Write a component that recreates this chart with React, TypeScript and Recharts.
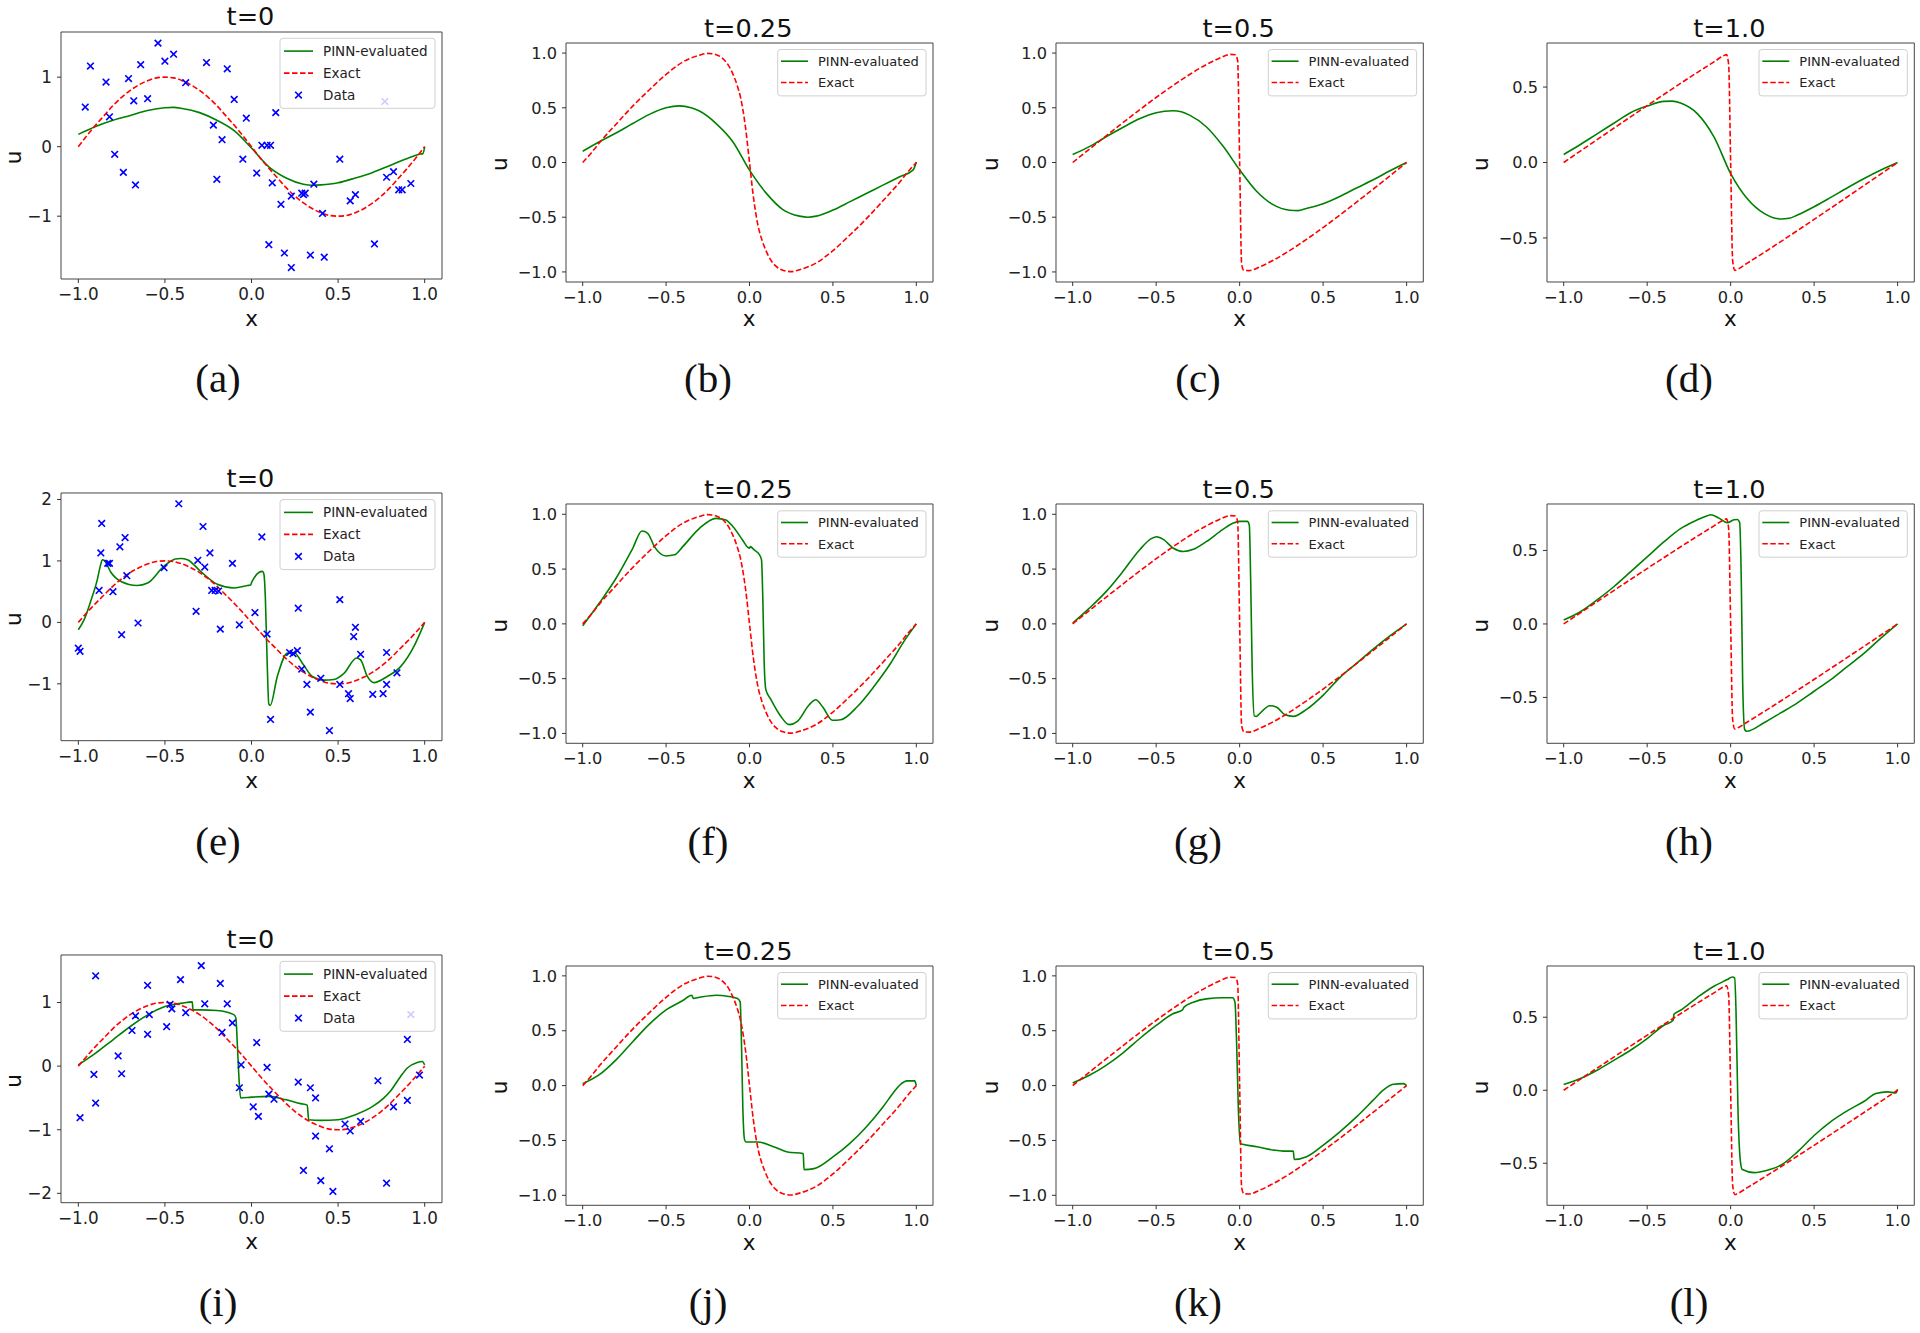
import React from 'react';
import { ComposedChart, Line, Scatter, XAxis, YAxis, ReferenceArea } from 'recharts';

type P = [number, number];

// ---------- tick values ----------
const xTicks = [-1, -0.5, 0, 0.5, 1];
const yTicksA = [-1, 0, 1];
const yTicksE = [-1, 0, 1, 2];
const yTicksI = [-2, -1, 0, 1];
const yTicksUnit = [-1, -0.5, 0, 0.5, 1];
const yTicksHalf = [-0.5, 0, 0.5];

// ---------- exact solutions ----------
const exactT0: P[] = [
  [-1, 0], [-0.95, 0.16], [-0.9, 0.31], [-0.85, 0.45], [-0.8, 0.59], [-0.75, 0.71], [-0.7, 0.81],
  [-0.65, 0.89], [-0.6, 0.95], [-0.55, 0.99], [-0.5, 1.0], [-0.45, 0.99], [-0.4, 0.95], [-0.35, 0.89],
  [-0.3, 0.81], [-0.25, 0.71], [-0.2, 0.59], [-0.15, 0.45], [-0.1, 0.31], [-0.05, 0.16], [0, 0],
  [0.05, -0.16], [0.1, -0.31], [0.15, -0.45], [0.2, -0.59], [0.25, -0.71], [0.3, -0.81], [0.35, -0.89],
  [0.4, -0.95], [0.45, -0.99], [0.5, -1.0], [0.55, -0.99], [0.6, -0.95], [0.65, -0.89], [0.7, -0.81],
  [0.75, -0.71], [0.8, -0.59], [0.85, -0.45], [0.9, -0.31], [0.95, -0.16], [1, 0],
];
const exactT025: P[] = [
  [-1, 0], [-0.95, 0.085], [-0.9, 0.18], [-0.8, 0.35], [-0.7, 0.515], [-0.6, 0.665], [-0.5, 0.805],
  [-0.4, 0.918], [-0.3, 0.98], [-0.25, 0.997], [-0.2, 0.985], [-0.16, 0.95], [-0.127, 0.89], [-0.1, 0.81],
  [-0.075, 0.71], [-0.053, 0.59], [-0.023, 0.31], [0, 0], [0.023, -0.31], [0.053, -0.59], [0.075, -0.71],
  [0.1, -0.81], [0.127, -0.89], [0.16, -0.95], [0.2, -0.985], [0.25, -0.997], [0.3, -0.98], [0.4, -0.918],
  [0.5, -0.805], [0.6, -0.665], [0.7, -0.515], [0.8, -0.35], [0.9, -0.18], [0.95, -0.085], [1, 0],
];
const exactT05: P[] = [
  [-1, 0], [-0.872, 0.156], [-0.745, 0.309], [-0.623, 0.454], [-0.506, 0.588], [-0.396, 0.707],
  [-0.295, 0.809], [-0.204, 0.891], [-0.124, 0.951], [-0.056, 0.988], [-0.025, 0.985], [-0.012, 0.93],
  [0, 0], [0.012, -0.93], [0.025, -0.985], [0.056, -0.988], [0.124, -0.951], [0.204, -0.891],
  [0.295, -0.809], [0.396, -0.707], [0.506, -0.588], [0.623, -0.454], [0.745, -0.309], [0.872, -0.156], [1, 0],
];
const exactT1: P[] = [
  [-1, 0], [-0.794, 0.156], [-0.591, 0.309], [-0.396, 0.454], [-0.212, 0.588], [-0.1, 0.667],
  [-0.043, 0.707], [-0.025, 0.715], [-0.012, 0.65], [0, 0], [0.012, -0.65], [0.025, -0.715],
  [0.043, -0.707], [0.1, -0.667], [0.212, -0.588], [0.396, -0.454], [0.591, -0.309], [0.794, -0.156], [1, 0],
];

// ---------- PINN predictions ----------
const pinnA: P[] = [
  [-1, 0.177], [-0.9, 0.29], [-0.8, 0.38], [-0.7, 0.45], [-0.6, 0.52], [-0.5, 0.56], [-0.45, 0.565],
  [-0.4, 0.55], [-0.3, 0.49], [-0.2, 0.38], [-0.1, 0.23], [0, -0.02], [0.1, -0.29], [0.2, -0.45],
  [0.3, -0.54], [0.35, -0.555], [0.4, -0.55], [0.5, -0.52], [0.6, -0.45], [0.7, -0.37], [0.8, -0.27],
  [0.9, -0.17], [0.975, -0.105], [0.99, -0.1], [1, 0],
];
const pinnB: P[] = [
  [-1, 0.103], [-0.9, 0.19], [-0.8, 0.27], [-0.7, 0.356], [-0.6, 0.44], [-0.5, 0.5], [-0.42, 0.517],
  [-0.35, 0.5], [-0.3, 0.47], [-0.2, 0.356], [-0.1, 0.19], [0, -0.07], [0.1, -0.28], [0.2, -0.43],
  [0.3, -0.49], [0.35, -0.5], [0.4, -0.49], [0.5, -0.435], [0.6, -0.36], [0.7, -0.283], [0.8, -0.207],
  [0.9, -0.13], [0.98, -0.07], [1, 0.005],
];
const pinnC: P[] = [
  [-1, 0.073], [-0.9, 0.145], [-0.8, 0.235], [-0.7, 0.32], [-0.6, 0.4], [-0.5, 0.455], [-0.4, 0.473],
  [-0.35, 0.464], [-0.3, 0.433], [-0.2, 0.327], [-0.1, 0.15], [0, -0.067], [0.1, -0.26], [0.2, -0.385],
  [0.3, -0.436], [0.35, -0.44], [0.4, -0.42], [0.5, -0.376], [0.6, -0.31], [0.7, -0.233], [0.8, -0.158],
  [0.9, -0.076], [1, 0],
];
const pinnD: P[] = [
  [-1, 0.053], [-0.9, 0.119], [-0.8, 0.19], [-0.7, 0.26], [-0.6, 0.33], [-0.5, 0.374], [-0.4, 0.405],
  [-0.35, 0.407], [-0.3, 0.394], [-0.2, 0.324], [-0.1, 0.17], [0, -0.073], [0.1, -0.24], [0.2, -0.337],
  [0.3, -0.374], [0.35, -0.37], [0.4, -0.348], [0.5, -0.293], [0.6, -0.231], [0.7, -0.167], [0.8, -0.106],
  [0.9, -0.05], [1, 0],
];
const pinnE: P[] = [
  [-1, -0.12], [-0.967, 0.04], [-0.929, 0.34], [-0.89, 0.7], [-0.871, 0.94], [-0.861, 1.02], [-0.848, 1.0],
  [-0.813, 0.82], [-0.756, 0.67], [-0.66, 0.6], [-0.6, 0.64], [-0.505, 0.915], [-0.44, 1.03], [-0.409, 1.04],
  [-0.37, 1.02], [-0.294, 0.83], [-0.197, 0.62], [-0.1, 0.56], [-0.024, 0.6], [-0.005, 0.61], [0.002, 0.66],
  [0.063, 0.83], [0.072, 0.78], [0.08, 0.4], [0.09, -0.6], [0.1, -1.33], [0.108, -1.35], [0.149, -0.88],
  [0.207, -0.5], [0.245, -0.49], [0.294, -0.665], [0.351, -0.88], [0.419, -0.94], [0.476, -0.93],
  [0.534, -0.83], [0.607, -0.58], [0.63, -0.61], [0.669, -0.88], [0.707, -0.98], [0.784, -0.88],
  [0.861, -0.72], [0.938, -0.39], [1, 0],
];
const pinnF: P[] = [
  [-1, -0.018], [-0.9, 0.19], [-0.8, 0.416], [-0.7, 0.69], [-0.645, 0.848], [-0.61, 0.827], [-0.57, 0.705],
  [-0.5, 0.62], [-0.45, 0.63], [-0.4, 0.705], [-0.3, 0.872], [-0.2, 0.963], [-0.142, 0.948], [-0.1, 0.888],
  [-0.042, 0.766], [-0.012, 0.7], [0, 0.69], [0.005, 0.705], [0.028, 0.675], [0.06, 0.63], [0.072, 0.584],
  [0.08, 0.22], [0.088, -0.35], [0.098, -0.6], [0.128, -0.69], [0.188, -0.845], [0.238, -0.92],
  [0.287, -0.89], [0.357, -0.74], [0.397, -0.693], [0.437, -0.754], [0.497, -0.88], [0.547, -0.875],
  [0.647, -0.754], [0.747, -0.57], [0.846, -0.36], [0.926, -0.16], [1, 0],
];
const pinnG: P[] = [
  [-1, 0.006], [-0.9, 0.143], [-0.8, 0.294], [-0.7, 0.477], [-0.6, 0.674], [-0.527, 0.78], [-0.497, 0.795],
  [-0.457, 0.771], [-0.397, 0.69], [-0.337, 0.66], [-0.277, 0.68], [-0.2, 0.75], [-0.1, 0.862],
  [-0.038, 0.92], [0, 0.935], [0.046, 0.935], [0.058, 0.9], [0.066, 0.4], [0.075, -0.4], [0.088, -0.84],
  [0.1, -0.845], [0.112, -0.83], [0.182, -0.747], [0.222, -0.76], [0.272, -0.83], [0.321, -0.844],
  [0.401, -0.78], [0.501, -0.65], [0.6, -0.49], [0.7, -0.36], [0.8, -0.23], [0.9, -0.11], [1, 0],
];
const pinnH: P[] = [
  [-1, 0.027], [-0.9, 0.083], [-0.8, 0.163], [-0.7, 0.253], [-0.6, 0.354], [-0.5, 0.456], [-0.4, 0.558],
  [-0.3, 0.648], [-0.22, 0.697], [-0.14, 0.736], [-0.12, 0.743], [-0.07, 0.72], [-0.02, 0.688],
  [0.02, 0.709], [0.04, 0.711], [0.054, 0.69], [0.064, 0.275], [0.072, -0.4], [0.084, -0.718],
  [0.096, -0.73], [0.2, -0.672], [0.3, -0.605], [0.4, -0.537], [0.5, -0.458], [0.6, -0.379], [0.7, -0.289],
  [0.8, -0.199], [0.9, -0.097], [1, 0],
];
const pinnI: P[] = [
  [-1, 0.02], [-0.9, 0.204], [-0.8, 0.414], [-0.7, 0.623], [-0.6, 0.806], [-0.5, 0.937], [-0.4, 0.99],
  [-0.342, 1.01], [-0.338, 0.885], [-0.294, 0.885], [-0.2, 0.874], [-0.1, 0.806], [-0.09, 0.75],
  [-0.082, 0.36], [-0.072, -0.2], [-0.063, -0.5], [0, -0.487], [0.1, -0.476], [0.2, -0.53], [0.284, -0.59],
  [0.322, -0.613], [0.33, -0.843], [0.4, -0.853], [0.5, -0.843], [0.6, -0.764], [0.7, -0.634],
  [0.765, -0.5], [0.8, -0.4], [0.861, -0.162], [0.9, -0.03], [0.957, 0.058], [0.986, 0.073], [1, 0.02],
];
const pinnJ: P[] = [
  [-1, 0.018], [-0.9, 0.1], [-0.8, 0.235], [-0.7, 0.4], [-0.6, 0.56], [-0.5, 0.69], [-0.4, 0.775],
  [-0.346, 0.824], [-0.337, 0.795], [-0.3, 0.805], [-0.2, 0.824], [-0.132, 0.815], [-0.072, 0.793],
  [-0.056, 0.763], [-0.048, 0.383], [-0.04, -0.2], [-0.03, -0.49], [-0.022, -0.514], [0.048, -0.514],
  [0.148, -0.559], [0.228, -0.605], [0.322, -0.62], [0.327, -0.766], [0.387, -0.757], [0.5, -0.65],
  [0.6, -0.529], [0.7, -0.377], [0.8, -0.195], [0.866, -0.058], [0.9, 0.003], [0.946, 0.043],
  [0.99, 0.043], [1, 0],
];
const pinnK: P[] = [
  [-1, 0.024], [-0.9, 0.094], [-0.8, 0.185], [-0.7, 0.297], [-0.6, 0.427], [-0.5, 0.548], [-0.4, 0.655],
  [-0.342, 0.69], [-0.333, 0.715], [-0.277, 0.76], [-0.2, 0.79], [-0.1, 0.8], [-0.042, 0.8], [-0.028, 0.76],
  [-0.018, 0.38], [-0.008, -0.2], [0.004, -0.527], [0.104, -0.557], [0.204, -0.588], [0.261, -0.597],
  [0.321, -0.597], [0.327, -0.673], [0.401, -0.648], [0.501, -0.542], [0.6, -0.421], [0.7, -0.285],
  [0.8, -0.133], [0.86, -0.042], [0.92, 0.012], [0.98, 0.018], [1, 0],
];
const pinnL: P[] = [
  [-1, 0.039], [-0.9, 0.08], [-0.8, 0.137], [-0.7, 0.205], [-0.6, 0.274], [-0.5, 0.354], [-0.4, 0.445],
  [-0.344, 0.479], [-0.34, 0.52], [-0.3, 0.548], [-0.2, 0.635], [-0.1, 0.712], [-0.02, 0.758], [0.01, 0.776],
  [0.024, 0.769], [0.032, 0.548], [0.044, -0.137], [0.06, -0.502], [0.07, -0.543], [0.14, -0.564],
  [0.22, -0.548], [0.3, -0.514], [0.4, -0.422], [0.5, -0.31], [0.6, -0.215], [0.7, -0.14], [0.8, -0.075],
  [0.87, -0.022], [0.94, -0.011], [0.99, -0.018], [1, 0.007],
];

// ---------- noisy training data ----------
const dataA: P[] = [
  [-0.96, 0.57], [-0.93, 1.16], [-0.84, 0.93], [-0.82, 0.43], [-0.79, -0.11], [-0.74, -0.37], [-0.71, 0.98],
  [-0.68, 0.66], [-0.67, -0.55], [-0.64, 1.18], [-0.6, 0.69], [-0.54, 1.49], [-0.5, 1.23], [-0.45, 1.33],
  [-0.38, 0.92], [-0.26, 1.21], [-0.22, 0.31], [-0.2, -0.47], [-0.17, 0.1], [-0.14, 1.12], [-0.1, 0.68],
  [-0.05, -0.18], [-0.03, 0.41], [0.03, -0.38], [0.06, 0.02], [0.09, 0.02], [0.11, 0.02], [0.1, -1.41],
  [0.12, -0.52], [0.14, 0.49], [0.17, -0.83], [0.19, -1.53], [0.23, -0.71], [0.23, -1.74], [0.29, -0.67],
  [0.3, -0.69], [0.31, -0.67], [0.34, -1.56], [0.36, -0.54], [0.41, -0.96], [0.42, -1.59], [0.51, -0.18],
  [0.57, -0.78], [0.6, -0.69], [0.71, -1.4], [0.77, 0.65], [0.78, -0.44], [0.82, -0.36], [0.85, -0.62],
  [0.87, -0.62], [0.92, -0.53],
];
const dataE: P[] = [
  [-1.0, -0.42], [-0.99, -0.47], [-0.87, 1.13], [-0.865, 1.61], [-0.88, 0.52], [-0.83, 0.96], [-0.82, 0.96],
  [-0.8, 0.5], [-0.76, 1.23], [-0.75, -0.2], [-0.73, 1.38], [-0.72, 0.76], [-0.655, -0.01], [-0.505, 0.89],
  [-0.42, 1.93], [-0.32, 0.18], [-0.31, 1.01], [-0.28, 1.56], [-0.27, 0.9], [-0.24, 1.13], [-0.23, 0.52],
  [-0.21, 0.52], [-0.18, -0.11], [-0.19, 0.51], [-0.11, 0.96], [-0.07, -0.04], [0.02, 0.16], [0.06, 1.39],
  [0.09, -0.19], [0.11, -1.58], [0.22, -0.49], [0.24, -0.51], [0.265, -0.46], [0.27, 0.23], [0.29, -0.76],
  [0.32, -1.01], [0.34, -1.46], [0.4, -0.91], [0.45, -1.76], [0.51, 0.37], [0.51, -1.01], [0.56, -1.16],
  [0.57, -1.24], [0.59, -0.23], [0.6, -0.08], [0.63, -0.52], [0.7, -1.17], [0.76, -1.16], [0.78, -0.49],
  [0.78, -1.01], [0.84, -0.82],
];
const dataI: P[] = [
  [-0.99, -0.81], [-0.91, -0.13], [-0.9, 1.42], [-0.9, -0.58], [-0.77, 0.16], [-0.75, -0.12], [-0.69, 0.56],
  [-0.67, 0.79], [-0.6, 0.5], [-0.6, 1.27], [-0.59, 0.81], [-0.49, 0.62], [-0.47, 0.97], [-0.46, 0.9],
  [-0.41, 1.36], [-0.38, 0.84], [-0.29, 1.58], [-0.27, 0.98], [-0.18, 1.3], [-0.17, 0.53], [-0.14, 0.98],
  [-0.11, 0.68], [-0.06, 0.02], [-0.07, -0.34], [0.01, -0.64], [0.03, 0.37], [0.04, -0.79], [0.09, -0.02],
  [0.1, -0.44], [0.13, -0.52], [0.27, -0.25], [0.3, -1.64], [0.34, -0.34], [0.37, -0.5], [0.37, -1.1],
  [0.4, -1.8], [0.45, -1.3], [0.47, -1.97], [0.54, -0.91], [0.57, -1.02], [0.63, -0.87], [0.73, -0.23],
  [0.78, -1.84], [0.82, -0.64], [0.9, 0.42], [0.9, -0.54], [0.92, 0.81], [0.97, -0.14],
];

// ---------- helpers ----------
const minus = '\u2212';
const fmtDec = (v: number) => (v < 0 ? minus : '') + Math.abs(v).toFixed(1);
const fmtInt = (v: number) => (v < 0 ? minus : '') + Math.abs(v).toFixed(0);
const toRows = (arr: P[]) => arr.map(([x, y]) => ({ x, y }));

const GREEN = '#008000';
const RED = '#ff0000';
const BLUE = '#0000ff';
const FONT = "'DejaVu Sans', Verdana, sans-serif";

const XMark = (props: any) => {
  const { cx, cy } = props;
  if (cx == null || cy == null) return null;
  const s = 3.3;
  return (
    <path
      d={`M${cx - s},${cy - s}L${cx + s},${cy + s}M${cx - s},${cy + s}L${cx + s},${cy - s}`}
      stroke={BLUE}
      strokeWidth={1.6}
      fill="none"
    />
  );
};

type Cfg = {
  L: number; T: number; R: number; B: number;
  yDomain: [number, number]; yTicks: number[]; yFmt: (v: number) => string;
  title: string; cap: string; capX: number; capY: number;
  pinn: P[]; exact: P[]; pts?: P[]; big: boolean;
};

const panels: Cfg[] = [
  { L: 61, T: 32, R: 442, B: 279, yDomain: [-1.904, 1.65], yTicks: yTicksA, yFmt: fmtInt, title: 't=0', cap: '(a)', capX: 218, capY: 382, pinn: pinnA, exact: exactT0, pts: dataA, big: true },
  { L: 565.7, T: 42.7, R: 932.7, B: 281.7, yDomain: [-1.092, 1.092], yTicks: yTicksUnit, yFmt: fmtDec, title: 't=0.25', cap: '(b)', capX: 708, capY: 382, pinn: pinnB, exact: exactT025, big: false },
  { L: 1056, T: 42.7, R: 1423.3, B: 281.7, yDomain: [-1.092, 1.092], yTicks: yTicksUnit, yFmt: fmtDec, title: 't=0.5', cap: '(c)', capX: 1198, capY: 382, pinn: pinnC, exact: exactT05, big: false },
  { L: 1546.7, T: 42.7, R: 1914, B: 281.7, yDomain: [-0.792, 0.792], yTicks: yTicksHalf, yFmt: fmtDec, title: 't=1.0', cap: '(d)', capX: 1689, capY: 382, pinn: pinnD, exact: exactT1, big: false },

  { L: 61, T: 493.3, R: 442, B: 741, yDomain: [-1.925, 2.105], yTicks: yTicksE, yFmt: fmtInt, title: 't=0', cap: '(e)', capX: 218, capY: 845.5, pinn: pinnE, exact: exactT0, pts: dataE, big: true },
  { L: 565.7, T: 504, R: 932.7, B: 743.3, yDomain: [-1.09, 1.094], yTicks: yTicksUnit, yFmt: fmtDec, title: 't=0.25', cap: '(f)', capX: 708, capY: 845.5, pinn: pinnF, exact: exactT025, big: false },
  { L: 1056, T: 504, R: 1423.3, B: 743.3, yDomain: [-1.09, 1.094], yTicks: yTicksUnit, yFmt: fmtDec, title: 't=0.5', cap: '(g)', capX: 1198, capY: 845.5, pinn: pinnG, exact: exactT05, big: false },
  { L: 1546.7, T: 504, R: 1914, B: 743.3, yDomain: [-0.812, 0.816], yTicks: yTicksHalf, yFmt: fmtDec, title: 't=1.0', cap: '(h)', capX: 1689, capY: 845.5, pinn: pinnH, exact: exactT1, big: false },

  { L: 61, T: 955, R: 442, B: 1202.7, yDomain: [-2.147, 1.747], yTicks: yTicksI, yFmt: fmtInt, title: 't=0', cap: '(i)', capX: 218, capY: 1306, pinn: pinnI, exact: exactT0, pts: dataI, big: true },
  { L: 565.7, T: 965.7, R: 932.7, B: 1205, yDomain: [-1.091, 1.09], yTicks: yTicksUnit, yFmt: fmtDec, title: 't=0.25', cap: '(j)', capX: 708, capY: 1306, pinn: pinnJ, exact: exactT025, big: false },
  { L: 1056, T: 965.7, R: 1423.3, B: 1205, yDomain: [-1.091, 1.09], yTicks: yTicksUnit, yFmt: fmtDec, title: 't=0.5', cap: '(k)', capX: 1198, capY: 1306, pinn: pinnK, exact: exactT05, big: false },
  { L: 1546.7, T: 965.7, R: 1914, B: 1205, yDomain: [-0.788, 0.851], yTicks: yTicksHalf, yFmt: fmtDec, title: 't=1.0', cap: '(l)', capX: 1689, capY: 1306, pinn: pinnL, exact: exactT1, big: false },
];

const YW = 70;
const XH = 40;
const PAD = 6;

function Panel({ c }: { c: Cfg }) {
  const w = c.R - c.L;
  const h = c.B - c.T;
  const fs = c.big ? 16.8 : 16.2;
  const tickStyle = { fill: '#222', fontSize: fs, fontFamily: FONT };
  return (
    <div style={{ position: 'absolute', left: c.L - YW - PAD, top: c.T - PAD }}>
      <ComposedChart
        width={w + YW + 2 * PAD}
        height={h + XH + 2 * PAD}
        margin={{ top: PAD, right: PAD, bottom: PAD, left: PAD }}
      >
        <XAxis
          dataKey="x" type="number" domain={[-1.1, 1.1]} ticks={xTicks} tickFormatter={fmtDec}
          allowDataOverflow height={XH} axisLine={false} tickLine={{ stroke: '#333' }}
          tickSize={4} tickMargin={5} tick={tickStyle} interval={0}
        />
        <YAxis
          dataKey="y" type="number" domain={c.yDomain} ticks={c.yTicks} tickFormatter={c.yFmt}
          allowDataOverflow width={YW} axisLine={false} tickLine={{ stroke: '#333' }}
          tickSize={4} tickMargin={5} tick={tickStyle} interval={0}
        />
        <ReferenceArea
          x1={-1.1} x2={1.1} y1={c.yDomain[0]} y2={c.yDomain[1]}
          fill="none" fillOpacity={0} stroke="#444" strokeWidth={1} ifOverflow="visible"
        />
        <Line
          data={toRows(c.pinn)} dataKey="y" type="monotone" stroke={GREEN} strokeWidth={1.6}
          dot={false} activeDot={false} isAnimationActive={false}
        />
        <Line
          data={toRows(c.exact)} dataKey="y" type="monotone" stroke={RED} strokeWidth={1.6}
          strokeDasharray="5.5 2.5" dot={false} activeDot={false} isAnimationActive={false}
        />
        {c.pts ? (
          <Scatter data={toRows(c.pts)} dataKey="y" shape={XMark} fill={BLUE} isAnimationActive={false} />
        ) : null}
      </ComposedChart>
    </div>
  );
}

function Annotations({ c }: { c: Cfg }) {
  const cx = (c.L + c.R) / 2;
  const midY = (c.T + c.B) / 2;
  const titleFs = 25.6;
  const titleCy = c.big ? c.T - 16 : c.T - 15;
  const labFs = 21.5;
  const xLabCy = c.big ? c.B + 40.8 : c.B + 38.8;
  const uCx = c.big ? Math.max(c.L - 49.3, 14.8) : c.L - 64.2;
  const capFs = 41;
  // legend
  const three = !!c.pts;
  const lw = three ? 155 : 148.3;
  const lh = three ? 70 : 46.4;
  const lx = c.R - (three ? 7 : 6.7) - lw;
  const ly = c.T + (three ? 6.3 : 6.8);
  const rows = three ? [12.8, 34.8, 56.8] : [11.7, 33];
  const lfs = three ? 13.5 : 13;
  const s0 = three ? 4 : 3.3;
  const s1 = three ? 33 : 30.3;
  const tx = three ? 43 : 40.3;
  const labels = ['PINN-evaluated', 'Exact', 'Data'];
  return (
    <g>
      <text x={cx - 1} y={titleCy + 0.365 * titleFs} textAnchor="middle" fontSize={titleFs} fontFamily={FONT} fill="#111">
        {c.title}
      </text>
      <text x={cx} y={xLabCy + 0.273 * labFs} textAnchor="middle" fontSize={labFs} fontFamily={FONT} fill="#111">
        x
      </text>
      <text
        transform={`translate(${uCx},${midY + 2}) rotate(-90)`}
        x={0} y={0.273 * labFs} textAnchor="middle" fontSize={labFs} fontFamily={FONT} fill="#111"
      >
        u
      </text>
      <text x={c.capX} y={c.capY + 0.24 * capFs} textAnchor="middle" fontSize={capFs} fontFamily="'Liberation Serif', 'DejaVu Serif', serif" fill="#111">
        {c.cap}
      </text>
      <rect x={lx} y={ly} width={lw} height={lh} rx={3} ry={3} fill="rgba(255,255,255,0.8)" stroke="#d0d0d0" strokeWidth={1} />
      {rows.map((r, i) => {
        const yy = ly + r;
        return (
          <g key={i}>
            {i === 0 ? <line x1={lx + s0} x2={lx + s1} y1={yy} y2={yy} stroke={GREEN} strokeWidth={1.6} /> : null}
            {i === 1 ? <line x1={lx + s0} x2={lx + s1} y1={yy} y2={yy} stroke={RED} strokeWidth={1.6} strokeDasharray="5.5 2.5" /> : null}
            {i === 2 ? (
              <path
                d={`M${lx + (s0 + s1) / 2 - 3.3},${yy - 3.3}L${lx + (s0 + s1) / 2 + 3.3},${yy + 3.3}M${lx + (s0 + s1) / 2 - 3.3},${yy + 3.3}L${lx + (s0 + s1) / 2 + 3.3},${yy - 3.3}`}
                stroke={BLUE} strokeWidth={1.6} fill="none"
              />
            ) : null}
            <text x={lx + tx} y={yy + 0.365 * lfs} fontSize={lfs} fontFamily={FONT} fill="#222">
              {labels[i]}
            </text>
          </g>
        );
      })}
    </g>
  );
}

export default function App() {
  return (
    <div style={{ position: 'absolute', left: 0, top: 0, width: 1920, height: 1333, background: '#fff', overflow: 'hidden', fontFamily: FONT }}>
      {panels.map((c, i) => (
        <Panel key={i} c={c} />
      ))}
      <svg width={1920} height={1333} style={{ position: 'absolute', left: 0, top: 0, pointerEvents: 'none' }}>
        {panels.map((c, i) => (
          <Annotations key={i} c={c} />
        ))}
      </svg>
    </div>
  );
}
